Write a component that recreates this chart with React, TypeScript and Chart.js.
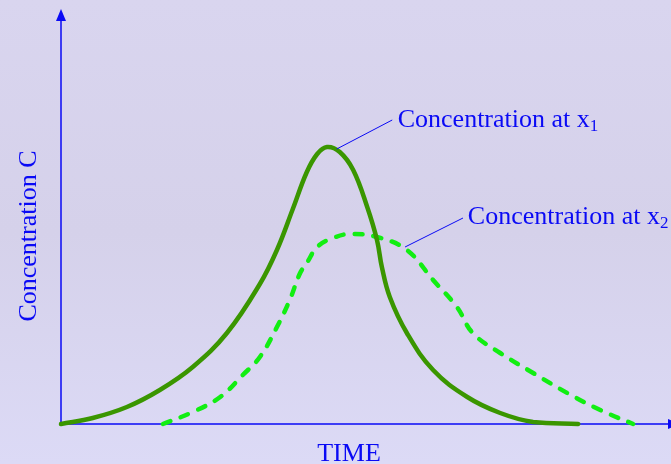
import React, { useEffect, useRef } from "react";
import { Chart, registerables } from "chart.js";

Chart.register(...registerables);

// Time (arbitrary units) and concentration (arbitrary units)
const solidTime = [0, 5.2, 10.8, 16.2, 21.6, 27.2, 32.6, 35.4, 38.0, 40.3, 42.0, 43.6, 45.7, 47.9, 50.2, 51.8, 52.6, 53.9, 56.7, 61.0, 66.6, 72.0, 77.4, 84.8];
const solidConc = [0, 1.5, 4.25, 8.5, 14.25, 22.75, 35, 43.5, 53.75, 63, 67.5, 69.25, 68, 63.5, 54.25, 46, 39.25, 31.75, 22.75, 13.5, 6.75, 2.75, 0.5, 0];
const dashedTime = [16.7, 21.6, 26.1, 29.8, 32.6, 35.4, 37.5, 39.2, 40.3, 42.0, 44.6, 47.4, 51.8, 56.7, 61.0, 64.9, 67.5, 72.0, 77.4, 83.0, 88.4, 93.8];
const dashedConc = [0, 3, 6.75, 12.25, 16.75, 24.25, 31, 37.75, 40.25, 44.25, 46.5, 47.5, 46.75, 43.5, 36, 29.25, 22.75, 17.75, 12.75, 7.75, 3.5, 0];

const xLabelText = "TIME";
const yLabelText = "Concentration C";
const label1 = { text: "Concentration at x", sub: "1", from: [45.2, 68.75], to: [54.3, 76], at: [55.2, 74.25] };
const label2 = { text: "Concentration at x", sub: "2", from: [56.4, 44.25], to: [65.9, 51.5], at: [66.7, 50] };

const BLUE = "#0a0af5";
const FONT = "'Liberation Serif', 'Times New Roman', serif";

export default function App() {
  const ref = useRef<HTMLCanvasElement | null>(null);

  useEffect(() => {
    document.body.style.margin = "0";
    const canvas = ref.current!;
    const deco = {
      id: "deco",
      beforeDraw(chart: any) {
        const c = chart.ctx;
        c.save();
        const g = c.createLinearGradient(0, 0, 0, chart.height);
        g.addColorStop(0, "#d9d5ef");
        g.addColorStop(0.5, "#d5d1ea");
        g.addColorStop(1, "#dcdaf6");
        c.fillStyle = g;
        c.fillRect(0, 0, chart.width, chart.height);
        c.restore();
      },
      beforeDatasetsDraw(chart: any) {
        const c = chart.ctx;
        const xs = chart.scales.x;
        const ys = chart.scales.y;
        const x0 = xs.getPixelForValue(0);
        const y0 = ys.getPixelForValue(0);
        c.save();
        c.strokeStyle = BLUE;
        c.fillStyle = BLUE;
        c.lineWidth = 1.5;
        c.beginPath();
        c.moveTo(x0, y0);
        c.lineTo(x0, 18);
        c.moveTo(x0, y0);
        c.lineTo(chart.width, y0);
        c.stroke();
        // arrows
        c.beginPath();
        c.moveTo(x0, 9);
        c.lineTo(x0 - 5, 21);
        c.lineTo(x0 + 5, 21);
        c.closePath();
        c.fill();
        c.beginPath();
        c.moveTo(chart.width + 8, y0);
        c.lineTo(chart.width - 3, y0 - 5);
        c.lineTo(chart.width - 3, y0 + 5);
        c.closePath();
        c.fill();
        // axis titles
        c.font = `26px ${FONT}`;
        c.textAlign = "center";
        c.textBaseline = "alphabetic";
        c.fillText(xLabelText, (x0 + chart.width) / 2 - 17, 461);
        c.save();
        c.translate(36, 236);
        c.rotate(-Math.PI / 2);
        c.fillText(yLabelText, 0, 0);
        c.restore();
        c.restore();
      },
      afterDatasetsDraw(chart: any) {
        const c = chart.ctx;
        const xs = chart.scales.x;
        const ys = chart.scales.y;
        c.save();
        c.strokeStyle = BLUE;
        c.fillStyle = BLUE;
        c.lineWidth = 1;
        for (const l of [label1, label2]) {
          c.beginPath();
          c.moveTo(xs.getPixelForValue(l.from[0]), ys.getPixelForValue(l.from[1]));
          c.lineTo(xs.getPixelForValue(l.to[0]), ys.getPixelForValue(l.to[1]));
          c.stroke();
          const tx = xs.getPixelForValue(l.at[0]);
          const ty = ys.getPixelForValue(l.at[1]);
          c.font = `26px ${FONT}`;
          c.textAlign = "left";
          c.textBaseline = "alphabetic";
          c.fillText(l.text, tx, ty);
          const w = c.measureText(l.text).width;
          c.font = `17px ${FONT}`;
          c.fillText(l.sub, tx + w, ty + 4);
        }
        c.restore();
      },
    };

    const chart = new Chart(canvas, {
      type: "line",
      data: {
        datasets: [
          {
            label: "Concentration at x1",
            data: solidTime.map((t, i) => ({ x: t, y: solidConc[i] })),
            borderColor: "#3a9600",
            borderWidth: 4.5,
            pointRadius: 0,
            tension: 0.4,
            borderCapStyle: "round",
            borderJoinStyle: "round",
            fill: false,
          },
          {
            label: "Concentration at x2",
            data: dashedTime.map((t, i) => ({ x: t, y: dashedConc[i] })),
            borderColor: "#12ee12",
            borderWidth: 4.5,
            borderDash: [8, 11],
            borderCapStyle: "round",
            pointRadius: 0,
            tension: 0.4,
            fill: false,
          },
        ],
      },
      options: {
        responsive: false,
        animation: false,
        devicePixelRatio: 1,
        clip: false as any,
        layout: { padding: { left: 61, right: 0, top: 24, bottom: 40 } },
        plugins: { legend: { display: false }, tooltip: { enabled: false } },
        scales: {
          x: { type: "linear", min: 0, max: 100, display: false },
          y: { type: "linear", min: 0, max: 100, display: false },
        },
      },
      plugins: [deco],
    } as any);
    return () => chart.destroy();
  }, []);

  return <canvas ref={ref} width={671} height={464} style={{ display: "block", width: 671, height: 464 }} />;
}
